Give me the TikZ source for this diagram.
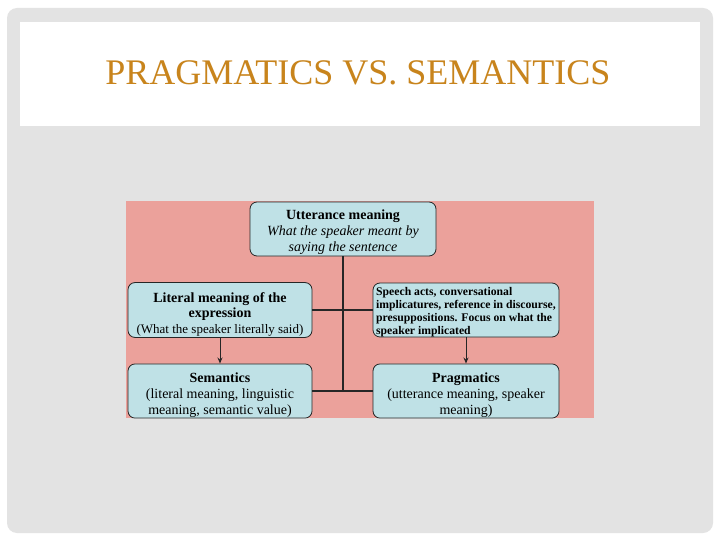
\documentclass[tikz,border=0pt]{standalone}
\usepackage{fontspec}
\usetikzlibrary{arrows.meta}
\setmainfont{Liberation Serif}
\newfontfamily\titlefont{Liberation Serif}
\newcommand\topstrut[1]{\rule{0pt}{#1}}
\begin{document}
\begin{tikzpicture}[x=1pt,y=-1pt,
  bx/.style={draw=black!85,line width=0.8pt,fill=boxblue,rounded corners=7pt,minimum width=184pt,minimum height=54pt,inner sep=1pt,align=center,font=\fontsize{14}{15.8}\selectfont},
  link/.style={line width=1.4pt,draw=black!85},
  arr/.style={line width=1pt,draw=black!85,-{Stealth[length=6pt,width=5pt]}}]
\definecolor{boxblue}{HTML}{BFE1E6}
\definecolor{pinkbg}{HTML}{EBA19B}
\definecolor{titlegold}{HTML}{C8841C}
\definecolor{slidegray}{HTML}{E3E3E3}
\useasboundingbox (0,0) rectangle (720,540);
\fill[white] (0,0) rectangle (720,540);
\fill[slidegray,rounded corners=10pt] (7,8) rectangle (713,533);
\fill[white] (20,22) rectangle (700,126);
\node[text=titlegold,font=\titlefont\fontsize{36}{40}\selectfont] (title) at (358,73) {PRAGMATICS VS. SEMANTICS};
\fill[pinkbg] (126,201) rectangle (594,418);
\node[bx,minimum width=186pt] (top) at (343,229) {\topstrut{16.5pt}\textbf{Utterance meaning}\\\textit{What the speaker meant by}\\\textit{saying the sentence}};
\node[bx] (lit) at (220,310) {\topstrut{18.5pt}\textbf{Literal meaning of the}\\\textbf{expression}\\{\fontsize{13}{15}\selectfont(What the speaker literally said)}};
\node[bx,minimum width=186pt] (speech) at (466,310) {};
\node[align=left,inner sep=0pt,font=\fontsize{11.7}{13}\selectfont\bfseries] (speechtxt) at (466,312.5) {Speech acts, conversational\\implicatures, reference in discourse,\\presuppositions. Focus on what the\\speaker implicated};
\node[bx] (sem) at (220,391) {\topstrut{17.5pt}\textbf{Semantics}\\(literal meaning, linguistic\\meaning, semantic value)};
\node[bx,minimum width=186pt] (prag) at (466,391) {\topstrut{17.5pt}\textbf{Pragmatics}\\(utterance meaning, speaker\\meaning)};
\coordinate (j1) at (343,310);
\coordinate (j2) at (343,391);
\draw[link] (top.south) -- (j2);
\draw[link] (lit.east) -- (speech.west);
\draw[link] (sem.east) -- (prag.west);
\draw[arr] (lit.south) -- (sem.north);
\draw[arr] (speech.south) -- (prag.north);
\end{tikzpicture}
\end{document}
